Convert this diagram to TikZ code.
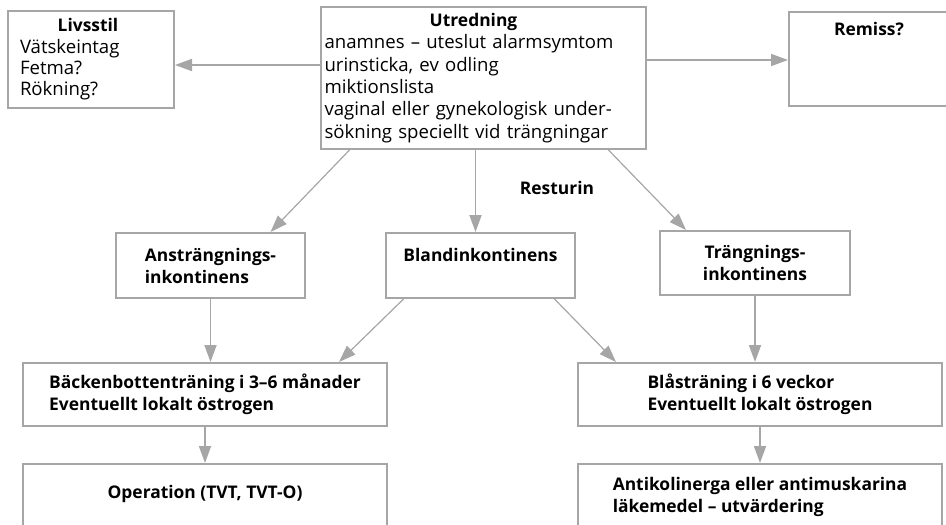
\documentclass[tikz,border=0pt]{standalone}
\usepackage{fontspec}
\setmainfont{Open Sans}
\usetikzlibrary{arrows.meta}
\definecolor{linje}{HTML}{A6A6A6}
\newcommand{\fet}{\fontsize{17.4}{22}\selectfont\bfseries}
\newcommand{\rubrik}[2][0pt]{\makebox[\linewidth]{\hspace*{#1}\fet #2}}

\begin{document}
\fontsize{18.6}{22}\selectfont
\begin{tikzpicture}[x=1pt, y=-1pt,
    ruta/.style={draw=linje, line width=2pt, anchor=north west, inner sep=0pt},
    pil/.style={draw=linje, line width=1.8pt, -{Triangle[length=17pt, width=12pt]}},
    snett/.style={pil, line width=1.2pt}]
  \useasboundingbox (0,0) rectangle (946,525);
  % rutor
  \node[ruta, minimum width=166, minimum height=97, text width=142, align=left,
    font={\fontsize{18.6}{21.3}\selectfont}] (livsstil) at (7,10)
    {\rubrik[-6pt]{Livsstil}\\ Vätskeintag\\ Fetma?\\ Rökning?};
  \node[ruta, minimum width=325, minimum height=142, text width=318, align=left,
    font={\fontsize{18.6}{22.4}\selectfont}] (utredning) at (320,6)
    {\rubrik[-20pt]{Utredning}\\ anamnes -- uteslut alarmsymtom\\ urinsticka, ev odling\\ miktionslista\\
     vaginal eller gynekologisk under-\\ sökning speciellt vid trängningar};
  \node[ruta, minimum width=160, minimum height=94,
    label={[anchor=north, font=\fet, yshift=-5pt]north:Remiss?}] (remiss) at (788,11) {};
  \node[ruta, minimum width=189, minimum height=65, align=left, font=\fet] (anstr) at (115,232)
    {Ansträngnings-\\ inkontinens};
  \node[ruta, minimum width=189, minimum height=65, align=center, font=\fet] (bland) at (385,232)
    {Blandinkontinens\\ \mbox{}};
  \node[ruta, minimum width=190, minimum height=64, align=center, font=\fet] (trang) at (659,230)
    {Trängnings-\\ inkontinens};
  \node[font=\fet] (resturin) at (557,188) {Resturin};
  \node[ruta, minimum width=364, minimum height=63, align=left, font=\fet] (backen) at (22,362)
    {Bäckenbottenträning i 3--6 månader\\ Eventuellt lokalt östrogen};
  \node[ruta, minimum width=364, minimum height=63, align=left, font=\fet] (blas) at (577,362)
    {Blåsträning i 6 veckor\\ Eventuellt lokalt östrogen};
  \node[ruta, minimum width=364, minimum height=90,
    label={[anchor=north, font=\fet, yshift=-16pt]north:Operation (TVT, TVT-O)}] (operation) at (22,463) {};
  \node[ruta, minimum width=364, minimum height=90,
    label={[anchor=north, font=\fet, align=left, yshift=-8pt]north:Antikolinerga eller antimuskarina\\ läkemedel -- utvärdering}] (anti) at (577,463) {};
  % pilar
  \draw[pil] (utredning.west |- 0,65) -- (livsstil.east |- 0,65);
  \draw[pil] (utredning.east |- 0,60) -- (remiss.west |- 0,60);
  \draw[snett] ([xshift=-134pt]utredning.south) -- ([xshift=60pt]anstr.north);
  \draw[pil] ([xshift=-5pt]bland.north |- utredning.south) -- ([xshift=-5pt]bland.north);
  \draw[snett] ([xshift=125pt]utredning.south) -- ([xshift=-69pt]trang.north);
  \draw[pil] (anstr.south) -- (backen.north -| anstr.south);
  \draw[snett] ([xshift=-77pt]bland.south) -- ([xshift=134pt]backen.north);
  \draw[snett] ([xshift=74pt]bland.south) -- ([xshift=-144pt]blas.north);
  \draw[pil] (trang.south) -- (blas.north -| trang.south);
  \draw[pil] (backen.south) -- (operation.north);
  \draw[pil] (blas.south) -- (anti.north);
\end{tikzpicture}
\end{document}
